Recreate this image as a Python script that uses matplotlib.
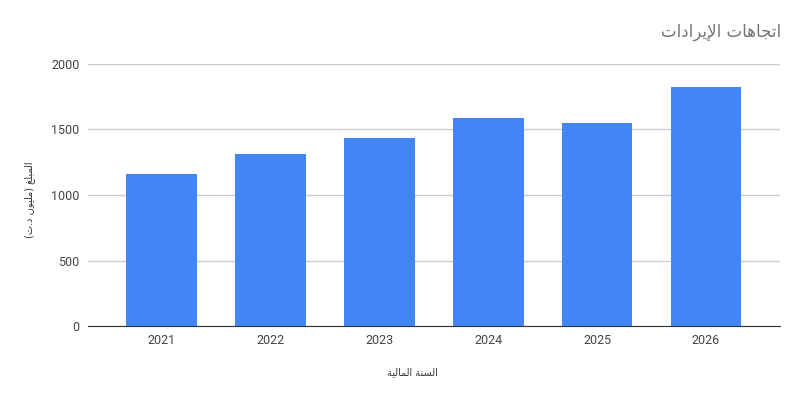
import matplotlib
matplotlib.use("Agg")
import matplotlib.pyplot as plt

# data
years = ["2021", "2022", "2023", "2024", "2025", "2026"]
revenue = [1160, 1315, 1435, 1590, 1550, 1825]
y_ticks = [0, 500, 1000, 1500, 2000]

title = "اتجاهات الإيرادات"
x_title = "السنة المالية"
y_title = "المبلغ (مليون د.ت)"

# matplotlib does no arabic shaping, so pick presentation forms by hand
# (isolated, final, initial, medial)
FORMS = {
    'ا': (0xFE8D, 0xFE8E, None, None),
    'إ': (0xFE87, 0xFE88, None, None),
    'ب': (0xFE8F, 0xFE90, 0xFE91, 0xFE92),
    'ة': (0xFE93, 0xFE94, None, None),
    'ت': (0xFE95, 0xFE96, 0xFE97, 0xFE98),
    'ج': (0xFE9D, 0xFE9E, 0xFE9F, 0xFEA0),
    'د': (0xFEA9, 0xFEAA, None, None),
    'ر': (0xFEAD, 0xFEAE, None, None),
    'س': (0xFEB1, 0xFEB2, 0xFEB3, 0xFEB4),
    'غ': (0xFECD, 0xFECE, 0xFECF, 0xFED0),
    'ل': (0xFEDD, 0xFEDE, 0xFEDF, 0xFEE0),
    'م': (0xFEE1, 0xFEE2, 0xFEE3, 0xFEE4),
    'ن': (0xFEE5, 0xFEE6, 0xFEE7, 0xFEE8),
    'ه': (0xFEE9, 0xFEEA, 0xFEEB, 0xFEEC),
    'و': (0xFEED, 0xFEEE, None, None),
    'ي': (0xFEF1, 0xFEF2, 0xFEF3, 0xFEF4),
}
LAMALEF = {'ا': (0xFEFB, 0xFEFC), 'إ': (0xFEF9, 0xFEFA)}


def dual(c):
    return c in FORMS and FORMS[c][2] is not None


def shape(s):
    out = []
    n = len(s)
    i = 0
    while i < n:
        c = s[i]
        if c not in FORMS:
            out.append(c)
            i += 1
            continue
        joins_prev = i > 0 and dual(s[i - 1])
        if c == 'ل' and i + 1 < n and s[i + 1] in LAMALEF:
            iso, fin = LAMALEF[s[i + 1]]
            out.append(chr(fin if joins_prev else iso))
            i += 2
            continue
        joins_next = dual(c) and i + 1 < n and s[i + 1] in FORMS
        iso, fin, ini, med = FORMS[c]
        if joins_prev and joins_next:
            f = med
        elif joins_prev:
            f = fin
        elif joins_next:
            f = ini
        else:
            f = iso
        out.append(chr(f))
        i += 1
    vis = ''.join(out)[::-1]
    return vis.translate(str.maketrans('()', ')('))


ar_font = ['DejaVu Sans']
plt.rcParams['font.family'] = ['Roboto', 'DejaVu Sans']

fig = plt.figure(figsize=(8, 4), dpi=100)
ax = fig.add_axes([0.11, 0.185, 0.865, 0.655])

x = range(len(years))
ax.bar(x, revenue, width=0.65, color='#4285F4', zorder=3)

ax.set_xlim(-0.674, len(years) - 0.32)
ax.set_ylim(0, 2000)
ax.set_yticks(y_ticks)
ax.set_xticks(list(x))
ax.set_xticklabels(years)
ax.grid(axis='y', color='#cccccc', linewidth=1, zorder=0)
for side in ['top', 'right', 'left']:
    ax.spines[side].set_visible(False)
ax.spines['bottom'].set_color('#333333')
ax.tick_params(axis='both', length=0, labelsize=9, colors='#444444')
ax.tick_params(axis='x', pad=6)
ax.tick_params(axis='y', pad=6)

fig.text(0.976, 0.92, shape(title), ha='right', va='center',
         fontsize=12, color='#757575', family=ar_font)
fig.text(0.515, 0.07, shape(x_title), ha='center', va='center',
         fontsize=7, color='#333333', family=ar_font)
fig.text(0.0375, 0.5, shape(y_title), ha='center', va='center',
         rotation=90, fontsize=7, color='#333333', family=ar_font)

fig.savefig('out.png', dpi=100, facecolor='white')
